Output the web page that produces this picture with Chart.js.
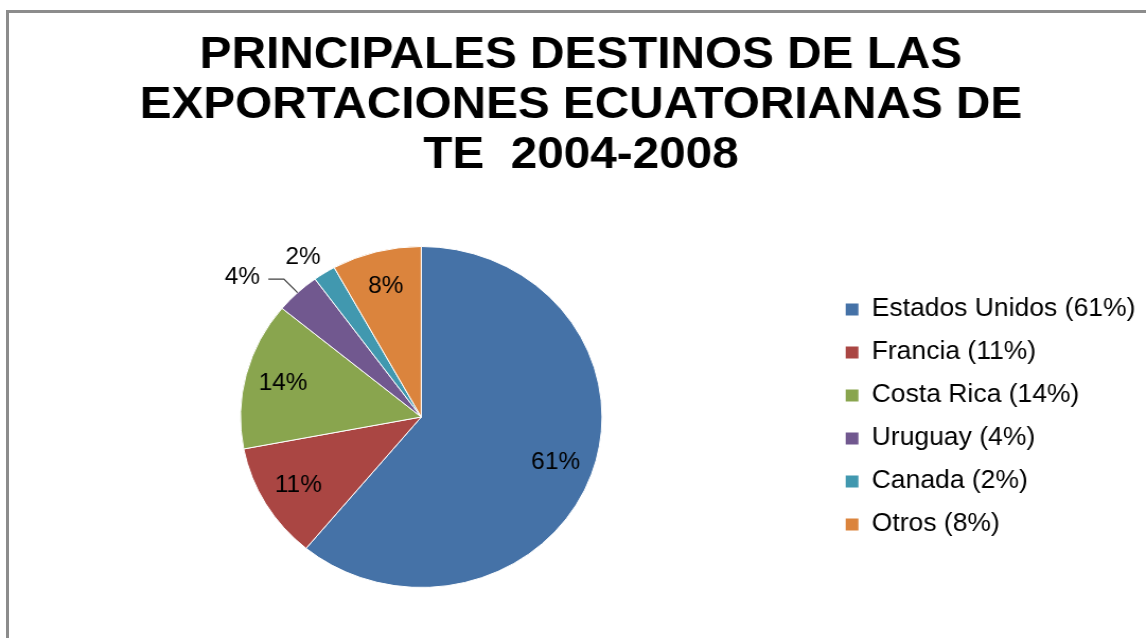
<!DOCTYPE html>
<html>
<head>
<meta charset="utf-8">
<script src="https://cdn.jsdelivr.net/npm/chart.js@4.4.0/dist/chart.umd.min.js"></script>
<style>
  html, body { margin: 0; padding: 0; background: #fff; overflow: hidden; }
  #frame { position: absolute; left: 6px; top: 10px; width: 1300px; height: 800px;
           border-left: 3px solid #8c8c8c; border-top: 3px solid #8c8c8c; }
  /* the reference is a little wider than tall, so stretch the drawing */
  #wrap { position: absolute; left: 0; top: 0; width: 1081px; height: 638px;
          transform: scaleX(1.0601); transform-origin: 0 0; }
</style>
</head>
<body>
<div id="frame"></div>
<div id="wrap"><canvas id="canvas"></canvas></div>
<script>
const categories = ['Estados Unidos', 'Francia', 'Costa Rica', 'Uruguay', 'Canada', 'Otros'];
const shares = [61, 11, 14, 4, 2, 8];
const colors = ['#4572A7', '#AA4643', '#89A54E', '#71588F', '#4198AF', '#DB843D'];
const titleLines = ['PRINCIPALES DESTINOS DE LAS', 'EXPORTACIONES ECUATORIANAS DE', 'TE  2004-2008'];

const FONT = '"Liberation Sans", Arial, sans-serif';

// percent labels: inside the big slices, outside (with a leader if needed) for small ones
const sliceLabels = {
    id: 'sliceLabels',
    afterDatasetsDraw(chart) {
        const ctx = chart.ctx;
        const arcs = chart.getDatasetMeta(0).data;
        ctx.save();
        ctx.font = '23px ' + FONT;
        ctx.fillStyle = '#000';
        ctx.textAlign = 'center';
        ctx.textBaseline = 'middle';
        const placed = [];
        for (let i = arcs.length - 1; i >= 0; i--) {
            const a = arcs[i];
            const mid = (a.startAngle + a.endAngle) / 2;
            const cos = Math.cos(mid), sin = Math.sin(mid);
            const R = a.outerRadius;
            const txt = shares[i] + '%';
            const w = ctx.measureText(txt).width;
            const h = 20;
            if (shares[i] >= 5) {
                ctx.fillText(txt, a.x + cos * R * 0.79, a.y + sin * R * 0.79);
                continue;
            }
            // anchor the nearest corner of the text box just outside the rim
            const ax = a.x + cos * R * 1.04, ay = a.y + sin * R * 1.04;
            let cx = ax + (cos < 0 ? -w / 2 : w / 2);
            const cy = ay + (sin < 0 ? -h / 2 : h / 2);
            let moved = false;
            placed.forEach(b => {
                if (Math.abs(cy - b.y) < h + 4 && Math.abs(cx - b.x) < (w + b.w) / 2) {
                    cx = b.x - b.w / 2 - 24 - w / 2;
                    moved = true;
                }
            });
            if (moved) {
                const ex = a.x + cos * R, ey = a.y + sin * R;
                const kx = a.x + cos * R * 1.11, ky = a.y + sin * R * 1.11;
                ctx.strokeStyle = '#404040';
                ctx.lineWidth = 1.2;
                ctx.beginPath();
                ctx.moveTo(ex, ey);
                ctx.lineTo(kx, ky);
                ctx.lineTo(cx + w / 2 + 8, ky);
                ctx.stroke();
            }
            ctx.fillText(txt, cx, cy);
            placed.push({x: cx, y: cy, w: w});
        }
        ctx.restore();
    }
};

const config = {
    type: 'pie',
    data: {
        labels: categories,
        datasets: [{
            data: shares,
            backgroundColor: colors,
            borderColor: '#ffffff',
            borderWidth: 1
        }]
    },
    options: {
        responsive: true,
        maintainAspectRatio: false,
        animation: false,
        layout: {padding: {left: 15, right: 0, top: 0, bottom: 50}},
        plugins: {
            title: {
                display: true,
                text: titleLines,
                color: '#000',
                font: {family: FONT, size: 45, weight: 'bold', lineHeight: 1.111},
                padding: {top: 31, bottom: 65}
            },
            legend: {
                position: 'right',
                fullSize: false,
                labels: {
                    boxWidth: 12,
                    boxHeight: 12,
                    padding: 18,
                    color: '#000',
                    font: {family: FONT, size: 25},
                    generateLabels(chart) {
                        const items = Chart.overrides.pie.plugins.legend.labels.generateLabels(chart);
                        items.forEach((it, i) => {
                            it.text = categories[i] + ' (' + shares[i] + '%)';
                            it.lineWidth = 0;
                        });
                        return items;
                    }
                }
            },
            tooltip: {enabled: false}
        }
    },
    plugins: [sliceLabels]
};

const context = document.getElementById('canvas').getContext('2d');
const chart = new Chart(context, config);
</script>
</body>
</html>
